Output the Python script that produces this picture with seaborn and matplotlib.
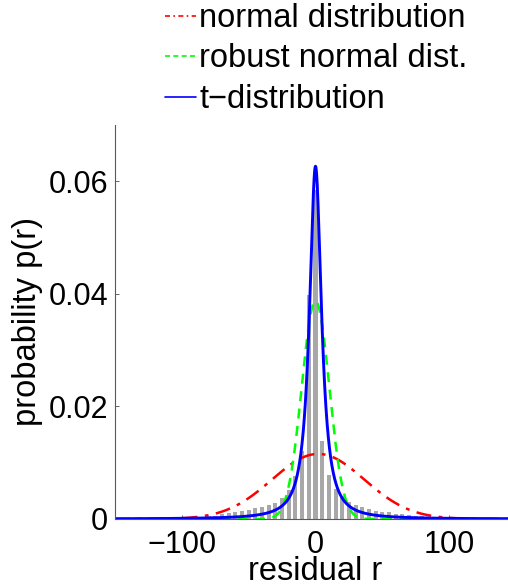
import math
import numpy as np
import pandas as pd
import matplotlib
matplotlib.use("Agg")
import matplotlib.pyplot as plt
import seaborn as sns

# histogram of residuals (bin centres, heights)
bin_centers = [-95, -90, -85, -80, -75, -70, -65, -60, -55, -50, -45, -40, -35, -30, -25,
               -20, -15, -10, -5, 0, 5, 10, 15, 20, 25, 30, 35, 40, 45, 50, 55, 60, 65,
               70, 75, 80, 85, 90, 95]
bin_heights = [0.0002, 0.0003, 0.0004, 0.0005, 0.0006, 0.0008, 0.0010, 0.0012, 0.0014,
               0.0016, 0.0019, 0.0021, 0.0024, 0.0029, 0.0037, 0.0052, 0.0077, 0.0120,
               0.0398, 0.0585, 0.0139, 0.0079, 0.0053, 0.0040, 0.0031, 0.0025, 0.0021,
               0.0018, 0.0015, 0.0013, 0.0012, 0.0009, 0.0008, 0.0007, 0.0006, 0.0005,
               0.0004, 0.0003, 0.0002]
bin_width = 5

# fitted distribution parameters
normal_mu, normal_sigma = 2.0, 34.5
robust_mu, robust_sigma = 0.0, 10.3
t_mu, t_scale, t_nu = 0.0, 5.25, 1.2

labels = ["normal distribution", "robust normal dist.", "t\u2212distribution"]

sns.set_style("ticks")
plt.rcParams['font.family'] = ['Liberation Sans', 'DejaVu Sans']
plt.rcParams['text.color'] = 'black'
plt.rcParams['axes.labelcolor'] = 'black'

fig = plt.figure(figsize=(5.08, 5.84), dpi=100)
ax = fig.add_axes([115/508, 65/584, 401/508, 394/584])

hist_df = pd.DataFrame({"r": bin_centers, "h": bin_heights})
sns.histplot(data=hist_df, x="r", weights="h", binwidth=bin_width,
             binrange=(bin_centers[0] - bin_width/2, bin_centers[-1] + bin_width/2),
             stat="count", shrink=0.6, color=(0.66, 0.66, 0.66), edgecolor="none",
             alpha=1.0, ax=ax)

r = np.linspace(-150, 150, 3001)
pdf_norm = np.exp(-0.5*((r-normal_mu)/normal_sigma)**2)/(math.sqrt(2*math.pi)*normal_sigma)
pdf_rob = np.exp(-0.5*((r-robust_mu)/robust_sigma)**2)/(math.sqrt(2*math.pi)*robust_sigma)
c = math.gamma((t_nu+1)/2)/(math.gamma(t_nu/2)*math.sqrt(t_nu*math.pi)*t_scale)
pdf_t = c*(1 + ((r-t_mu)/t_scale)**2/t_nu)**(-(t_nu+1)/2)

df = pd.DataFrame({"r": r, "n": pdf_norm, "rb": pdf_rob, "t": pdf_t})
sns.lineplot(data=df, x="r", y="n", color=(1, 0, 0), lw=1.8, ax=ax, label=labels[0])
ax.lines[-1].set_dashes([6, 3, 1.5, 3])
sns.lineplot(data=df, x="r", y="rb", color=(0, 1, 0), lw=1.8, ax=ax, label=labels[1])
ax.lines[-1].set_dashes([4, 3])
sns.lineplot(data=df, x="r", y="t", color=(0, 0, 1), lw=2.1, ax=ax, label=labels[2])

ax.set_xlim(-150, 150)
ax.set_ylim(0, 0.07)
ax.set_xticks([-100, 0, 100])
ax.set_xticklabels(["\u2212100", "0", "100"])
ax.set_yticks([0, 0.02, 0.04, 0.06])
ax.set_yticklabels(["0", "0.02", "0.04", "0.06"])
ax.tick_params(direction="in", length=3, width=0.6, labelsize=22, colors=(0.3, 0.3, 0.3),
               labelcolor="black", pad=5)
ax.tick_params(axis="x", pad=8)
for s in ["top", "right"]:
    ax.spines[s].set_visible(False)
for s in ["left", "bottom"]:
    ax.spines[s].set_color((0.35, 0.35, 0.35))
    ax.spines[s].set_linewidth(0.8)

ax.set_xlabel("residual r", fontsize=23.5, labelpad=-3)
ax.set_ylabel("probability p(r)", fontsize=23.5, labelpad=4)

leg = ax.legend(loc="upper left", bbox_to_anchor=(165/508, 1 - 3/584),
                bbox_transform=fig.transFigure,
                frameon=False, fontsize=23.5, handlelength=0.95, handletextpad=0.1,
                labelspacing=0.29, borderpad=0.0, borderaxespad=0.0)
leg.get_lines()[0].set_dashes([3, 2, 1, 2])
leg.get_lines()[1].set_dashes([3, 2])
for ln in leg.get_lines():
    ln.set_linewidth(1.2)

fig.savefig("out.png", dpi=100)
